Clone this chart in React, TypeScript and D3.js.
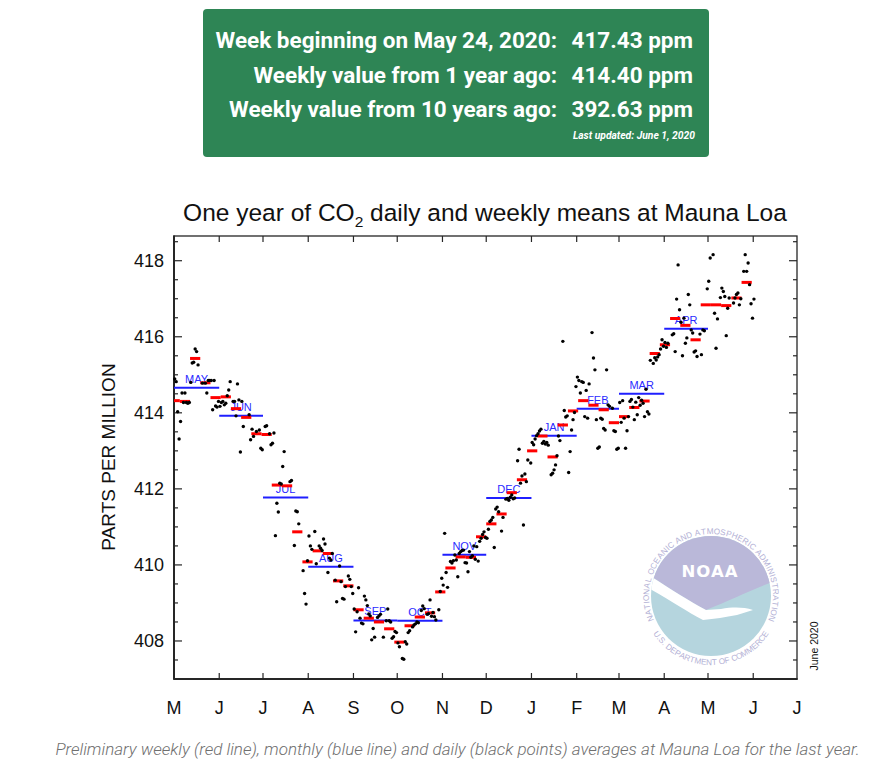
import React from 'react';
import * as d3 from 'd3';

// ---------- Header box ----------
const statLabels = [
  'Week beginning on May 24, 2020:',
  'Weekly value from 1 year ago:',
  'Weekly value from 10 years ago:',
];
const statValues = ['417.43 ppm', '414.40 ppm', '392.63 ppm'];
const lastUpdated = 'Last updated: June 1, 2020';
const caption =
  'Preliminary weekly (red line), monthly (blue line) and daily (black points) averages at Mauna Loa for the last year.';

// ---------- Axes ----------
const xTickLetters = ['M', 'J', 'J', 'A', 'S', 'O', 'N', 'D', 'J', 'F', 'M', 'A', 'M', 'J', 'J'];
const yTickValues = [408, 410, 412, 414, 416, 418];

// ---------- Monthly means (blue) ----------
const monthLabels = ['MAY', 'JUN', 'JUL', 'AUG', 'SEP', 'OCT', 'NOV', 'DEC', 'JAN', 'FEB', 'MAR', 'APR'];
const monthlyMeans = [414.66, 413.92, 411.77, 409.95, 408.54, 408.53, 410.27, 411.76, 413.4, 414.11, 414.5, 416.21];

// ---------- Weekly means (red) ----------
const weekStarts = [
  '2019-04-28', '2019-05-05', '2019-05-12', '2019-05-19', '2019-05-26', '2019-06-02', '2019-06-09',
  '2019-06-16', '2019-06-23', '2019-06-30', '2019-07-07', '2019-07-14', '2019-07-21', '2019-07-28',
  '2019-08-04', '2019-08-11', '2019-08-18', '2019-08-25', '2019-09-01', '2019-09-08', '2019-09-15',
  '2019-09-22', '2019-09-29', '2019-10-06', '2019-10-13', '2019-10-20', '2019-10-27', '2019-11-03',
  '2019-11-10', '2019-11-17', '2019-11-24', '2019-12-01', '2019-12-08', '2019-12-15', '2019-12-22',
  '2019-12-29', '2020-01-05', '2020-01-12', '2020-01-19', '2020-01-26', '2020-02-02', '2020-02-09',
  '2020-02-16', '2020-02-23', '2020-03-01', '2020-03-08', '2020-03-15', '2020-03-22', '2020-03-29',
  '2020-04-05', '2020-04-12', '2020-04-19', '2020-04-26', '2020-05-03', '2020-05-10', '2020-05-17',
  '2020-05-24',
];
const weeklyMeans = [
  414.32, 414.3, 415.43, 414.79, 414.4, 414.42, 414.11,
  413.88, 413.45, 413.43, 412.1, 412.08, 410.87, 410.08,
  410.37, 410.3, 409.58, 409.45, 408.82, 408.6, 408.5,
  408.32, 407.97, 408.4, 408.63, 408.74, 409.29, 409.92,
  410.21, 410.2, 410.74, 411.08, 411.34, 411.9, 412.24,
  413.0, 413.39, 412.84, 413.68, 414.05, 414.32, 414.2,
  414.08, 413.74, 413.9, 414.14, 414.31, 415.56, 415.79,
  416.48, 416.3, 415.92, 416.84, 416.84, 416.82, 417.02,
  417.43,
];

// ---------- Daily means (black points), one value per day of month ----------
const dailyMay2019 = [414.89, 414.82, 414.03, 413.31, 413.77, 414.52, 414.27, 414.52, 414.27, 414.25,
  414.27, 414.8, 415.31, 415.33, 415.68, 415.61, 415.26, null, null, 414.78,
  null, 414.78, 414.52, 414.85, 414.85, 414.85, 414.08, 414.85, 414.18, 414.15, 414.3];
const dailyJun2019 = [414.17, 414.27, 414.3, 414.21, 414.25, 414.45, 414.6, 414.82, null, 414.3,
  414.3, 413.92, 414.76, 414.34, 412.97, 414.3, 413.64, null, null, null,
  413.95, 413.29, 413.57, 413.38, null, 413.51, null, 413.55, 413.07, 413.03];
const dailyJul2019 = [null, 413.64, 413.66, null, 413.45, 413.16, 413.2, 413.47, 410.77, 411.62,
  411.39, 412.15, 412.13, 412.59, 412.98, null, null, null, 412.19, 412.22,
  null, 410.51, 411.42, 411.4, 411.08, null, null, 409.85, 409.25, 408.97, 410.11];
const dailyAug2019 = [410.76, 410.5, 410.41, null, 410.88, 410.03, null, 410.5, 410.44, 410.38,
  410.68, 410.55, null, 409.8, 410.18, 410.13, 410.3, null, 409.6, 409.03,
  null, 409.97, 409.56, 409.12, 409.1, 409.43, null, 409.71, 409.62, 409.43, 409.25];
const dailySep2019 = [408.84, 408.24, 408.77, 409.4, 408.6, 408.47, 408.45, 409.18, 409.08, 408.93,
  408.71, 408.66, 408.03, 408.33, 408.1, null, 408.62, 408.66, 408.7, null,
  408.1, null, 408.53, 408.84, 408.53, 408.5, 408.07, 408.11, 408.25, 408.22];
const dailyOct2019 = [407.95, 407.85, null, 407.54, 407.52, 407.98, 407.92, 408.22, 408.27, null,
  408.37, 408.42, 408.45, 408.5, 408.48, null, 408.8, 408.92, 408.85, null,
  408.7, 408.72, 409.08, 408.65, 408.75, 408.64, 408.55, null, 408.82, 409.3, 409.65];
const dailyNov2019 = [409.47, 410.83, 409.8, 409.41, null, 410.09, 410.05, 410.11, 410.26, 410.13,
  409.69, 410.3, 410.35, 410.38, 410.39, 410.06, 410.05, 409.82, 410.35, 410.2,
  410.24, 410.5, 410.15, 410.48, 410.1, 410.62, 410.7, 410.8, 410.87, 410.72];
const dailyDec2019 = [410.7, 410.94, 411.14, 411.18, 411.25, 410.46, 411.47, 411.52, 411.4, null,
  410.89, 411.25, null, 411.73, 411.75, 411.7, 411.78, 411.84, 411.74, 411.76,
  null, 412.74, 413.04, 412.15, 412.34, 411.05, 412.39, 412.19, 412.76, null, 412.68];
const dailyJan2020 = [413.22, 413.16, 413.31, 413.4, 413.45, 413.52, 413.57, 413.2, 413.25, 413.18,
  413.22, 413.15, null, 412.37, 412.41, 412.5, 412.63, 412.87, 413.39, 413.27,
  null, 415.88, 414.06, 413.89, 413.92, 412.43, 412.98, 413.55, 413.82, 414.01, 414.69];
const dailyFeb2020 = [414.94, 414.85, 414.52, 414.82, 414.8, 413.9, 414.59, 413.86, 414.76, null,
  416.11, 415.44, 415.13, 413.82, 413.07, 413.1, 413.86, 413.83, 413.59, 413.55,
  415.13, 414.21, 414.17, null, 414.12, 413.53, 413.51, 413.04, 413.07];
const dailyMar2020 = [414.27, 413.75, 414.32, 413.86, 413.07, 413.53, 413.9, 414.3, 414.35, 414.15,
  413.82, 414.28, 413.95, 414.4, 414.2, 414.33, 414.25, 413.9, 414.62, 414.03,
  413.97, 415.38, null, 415.3, 415.45, 415.39, 415.47, 415.53, 415.68, 415.92, 415.75];
const dailyApr2020 = [415.85, 415.72, 415.83, null, null, 416.05, 416.08, 415.61, 416.99, 417.89,
  416.71, 416.38, 415.5, 416.49, 415.83, 415.97, 417.11, 416.84, 416.18, 416.1,
  415.6, 415.63, 415.48, null, 416.07, 415.53, 416.18, 416.16, null, 417.26];
const dailyMay2020 = [417.46, 418.07, null, 418.16, 416.62, 415.7, 416.47, null, 417.03, 417.28,
  417.19, 417.06, 416.03, 416.75, 417.02, null, null, 416.89, 417.02, 417.11,
  417.15, 416.84, 417.0, null, 417.72, 418.16, 417.72, 417.94, 417.37, 416.87, 416.49];
const dailyJun2020 = [416.99];

const dailyMonthStarts = ['2019-05-01', '2019-06-01', '2019-07-01', '2019-08-01', '2019-09-01', '2019-10-01',
  '2019-11-01', '2019-12-01', '2020-01-01', '2020-02-01', '2020-03-01', '2020-04-01', '2020-05-01', '2020-06-01'];
const dailyMonthValues = [dailyMay2019, dailyJun2019, dailyJul2019, dailyAug2019, dailySep2019, dailyOct2019,
  dailyNov2019, dailyDec2019, dailyJan2020, dailyFeb2020, dailyMar2020, dailyApr2020, dailyMay2020, dailyJun2020];

const logoTopText = 'NATIONAL OCEANIC AND ATMOSPHERIC ADMINISTRATION';
const logoBottomText = 'U.S. DEPARTMENT OF COMMERCE';

const parse = d3.utcParse('%Y-%m-%d');

const CHART_FONT = '"Liberation Sans", Arial, Helvetica, sans-serif';

const charW = (c: string) => (c === ' ' ? 0.3 : c === 'I' || c === '.' ? 0.32 : c === 'M' ? 0.85 : 0.7);

function ArcText({
  text, cx, cy, r, a0, a1, dir, fontSize, fill,
}: {
  text: string; cx: number; cy: number; r: number; a0: number; a1: number; dir: 'top' | 'bottom'; fontSize: number; fill: string;
}) {
  const ws = text.split('').map(charW);
  const total = d3.sum(ws);
  let acc = 0;
  const items = text.split('').map((c, i) => {
    const mid = (acc + ws[i] / 2) / total;
    acc += ws[i];
    const deg = a0 + (a1 - a0) * mid;
    const rad = (deg * Math.PI) / 180;
    const px = cx + r * Math.cos(rad);
    const py = cy - r * Math.sin(rad);
    const rot = dir === 'top' ? 90 - deg : 270 - deg;
    return { c, px, py, rot };
  });
  return (
    <g fontFamily={CHART_FONT} fontSize={fontSize} fill={fill}>
      {items.map((it, i) =>
        it.c === ' ' ? null : (
          <text key={i} textAnchor="middle" transform={`translate(${it.px},${it.py}) rotate(${it.rot})`}>
            {it.c}
          </text>
        ),
      )}
    </g>
  );
}

function NoaaLogo({ cx, cy, r }: { cx: number; cy: number; r: number }) {
  const o = (dx: number, dy: number) => `${cx + dx},${cy + dy}`;
  const purple = `M${o(-80, -80)} L${o(80, -80)} L${o(80, -20)} L${o(64, -15)} C${o(40, -6)} ${o(20, 4)} ${o(-5, 14)} C${o(-25, 3)} ${o(-45, -10)} ${o(-70, -26)} Z`;
  const gull = `M${o(-70, -26)} C${o(-45, -10)} ${o(-25, 3)} ${o(-5, 14)} L${o(10, 13)} C${o(22, 11)} ${o(32, 11)} ${o(42, 14)} L${o(26, 19)} C${o(14, 21)} ${o(4, 23)} ${o(-8, 24)} C${o(-25, 15)} ${o(-45, 1)} ${o(-70, -12)} Z`;
  const textFill = '#b3b1d5';
  return (
    <g>
      <defs>
        <clipPath id="noaaDisc">
          <circle cx={cx} cy={cy} r={r} />
        </clipPath>
      </defs>
      <circle cx={cx} cy={cy} r={r} fill="#b5d5de" />
      <g clipPath="url(#noaaDisc)">
        <path d={purple} fill="#bab8d9" />
        <path d={gull} fill="#ffffff" />
      </g>
      <text
        x={cx - 1}
        y={cy - 19}
        textAnchor="middle"
        fill="#ffffff"
        fontFamily='"DejaVu Sans", sans-serif'
        fontWeight="bold"
        fontSize={16.5}
        letterSpacing={1}
      >
        NOAA
      </text>
      <ArcText text={logoTopText} cx={cx} cy={cy} r={r + 2} a0={203} a1={-23} dir="top" fontSize={8.2} fill={textFill} />
      <ArcText text={logoBottomText} cx={cx} cy={cy} r={r + 9} a0={213} a1={327} dir="bottom" fontSize={8.2} fill={textFill} />
    </g>
  );
}

export default function App() {
  const left = 174;
  const right = 797;
  const top = 236;
  const bottom = 679;

  const xStart = parse('2019-05-01') as Date;
  const xEnd = parse('2020-07-01') as Date;
  const x = d3.scaleUtc().domain([xStart, xEnd]).range([left, right]);
  const y = d3.scaleLinear().domain([407, 418.65]).range([bottom, top]);

  const monthEdges = d3.utcMonth.range(xStart, d3.utcMonth.offset(xEnd, 1));
  const innerMonthTicks = monthEdges.filter((d) => d > xStart && d < xEnd);
  const yTicksAll = d3.range(407.5, 418.51, 0.5);

  const monthly = monthLabels.map((label, i) => {
    const s = d3.utcMonth.offset(xStart, i);
    const e = d3.utcMonth.offset(xStart, i + 1);
    return { label, s, e, v: monthlyMeans[i] };
  });

  const weekly = weekStarts.map((ws, i) => {
    const s = parse(ws) as Date;
    const e = d3.utcDay.offset(s, 7);
    return { s: s < xStart ? xStart : s, e, v: weeklyMeans[i] };
  });

  const daily: { t: Date; v: number }[] = [];
  dailyMonthStarts.forEach((ms, mi) => {
    const m0 = parse(ms) as Date;
    dailyMonthValues[mi].forEach((v, di) => {
      if (v === null || v === undefined) return;
      daily.push({ t: d3.utcHour.offset(d3.utcDay.offset(m0, di), 12), v: v as number });
    });
  });

  const axisColor = '#262626';

  return (
    <div style={{ position: 'absolute', left: 0, top: 0, width: 871, height: 762, background: '#ffffff' }}>
      <svg width={871} height={762} style={{ display: 'block' }}>
        <rect x={0} y={0} width={871} height={762} fill="#ffffff" />

        {/* Header box */}
        <rect x={203} y={9} width={506} height={148} rx={4} fill="#2e8555" />
        {statLabels.map((lab, i) => (
          <g key={lab} fontFamily="Roboto, sans-serif" fontWeight={700} fontSize={22.5} fill="#ffffff">
            <text x={557} y={48 + i * 34.7} textAnchor="end">
              {lab}
            </text>
            <text x={693} y={48 + i * 34.7} textAnchor="end">
              {statValues[i]}
            </text>
          </g>
        ))}
        <text
          x={695}
          y={139}
          textAnchor="end"
          fontFamily="Roboto, sans-serif"
          fontStyle="italic"
          fontWeight={700}
          fontSize={10.3}
          fill="#ffffff"
        >
          {lastUpdated}
        </text>

        {/* Title */}
        <text x={485} y={221} textAnchor="middle" fontFamily={CHART_FONT} fontSize={24.5} fill="#111">
          One year of CO
          <tspan fontSize={15.5} dy={6}>
            2
          </tspan>
          <tspan dy={-6}> daily and weekly means at Mauna Loa</tspan>
        </text>

        {/* NOAA logo */}
        <NoaaLogo cx={711} cy={596} r={60} />

        {/* Frame */}
        <rect x={left} y={top} width={right - left} height={bottom - top} fill="none" stroke={axisColor} strokeWidth={1.3} />
        <line x1={left} y1={top - 0.5} x2={left} y2={bottom + 0.8} stroke={axisColor} strokeWidth={2} />
        <line x1={left} y1={bottom} x2={right + 0.6} y2={bottom} stroke={axisColor} strokeWidth={2} />

        {/* X ticks */}
        {innerMonthTicks.map((d, i) => (
          <g key={'xt' + i} stroke={axisColor} strokeWidth={1.2}>
            <line x1={x(d)} x2={x(d)} y1={bottom} y2={bottom - 6} />
            <line x1={x(d)} x2={x(d)} y1={top} y2={top + 6} />
          </g>
        ))}
        {/* Y ticks */}
        {yTicksAll.map((v, i) => {
          const major = Math.abs(v % 2) < 1e-6;
          const len = major ? 8 : 4;
          return (
            <g key={'yt' + i} stroke={axisColor} strokeWidth={1.2}>
              <line x1={left} x2={left + len} y1={y(v)} y2={y(v)} />
              <line x1={right} x2={right - len} y1={y(v)} y2={y(v)} />
            </g>
          );
        })}

        {/* Tick labels */}
        {monthEdges
          .filter((d) => d >= xStart && d <= xEnd)
          .map((d, i) => (
            <text
              key={'xl' + i}
              x={x(d)}
              y={713.5}
              textAnchor="middle"
              fontFamily={CHART_FONT}
              fontSize={18}
              fill="#111"
            >
              {xTickLetters[i]}
            </text>
          ))}
        {yTickValues.map((v) => (
          <text
            key={'yl' + v}
            x={164}
            y={y(v) + 6.4}
            textAnchor="end"
            fontFamily={CHART_FONT}
            fontSize={18}
            fill="#111"
          >
            {v}
          </text>
        ))}
        <text
          transform={`translate(114.5,457) rotate(-90)`}
          textAnchor="middle"
          fontFamily={CHART_FONT}
          fontSize={19}
          fill="#111"
        >
          PARTS PER MILLION
        </text>
        <text
          transform={`translate(818,646) rotate(-90)`}
          textAnchor="middle"
          fontFamily={CHART_FONT}
          fontSize={10.5}
          fill="#111"
        >
          June 2020
        </text>

        {/* Monthly means */}
        {monthly.map((m) => (
          <g key={m.label + m.s.toISOString()}>
            <line x1={x(m.s)} x2={x(m.e)} y1={y(m.v)} y2={y(m.v)} stroke="#1f1fff" strokeWidth={2} />
            <text
              x={x(new Date((+m.s + +m.e) / 2))}
              y={y(m.v) - 5}
              textAnchor="middle"
              fontFamily={CHART_FONT}
              fontSize={11}
              fill="#2a2aff"
            >
              {m.label}
            </text>
          </g>
        ))}

        {/* Weekly means */}
        {weekly.map((w, i) => (
          <line key={'w' + i} x1={x(w.s)} x2={x(w.e)} y1={y(w.v)} y2={y(w.v)} stroke="#ff0000" strokeWidth={3} />
        ))}

        {/* Daily points */}
        {daily.map((p, i) => (
          <circle key={'d' + i} cx={x(p.t)} cy={y(p.v)} r={1.7} fill="#000000" />
        ))}

        {/* Caption */}
        <text
          x={457.5}
          y={755}
          textAnchor="middle"
          fontFamily="Roboto, sans-serif"
          fontStyle="italic"
          fontWeight={300}
          fontSize={17}
          fill="#6f6f6f"
        >
          {caption}
        </text>
      </svg>
    </div>
  );
}
